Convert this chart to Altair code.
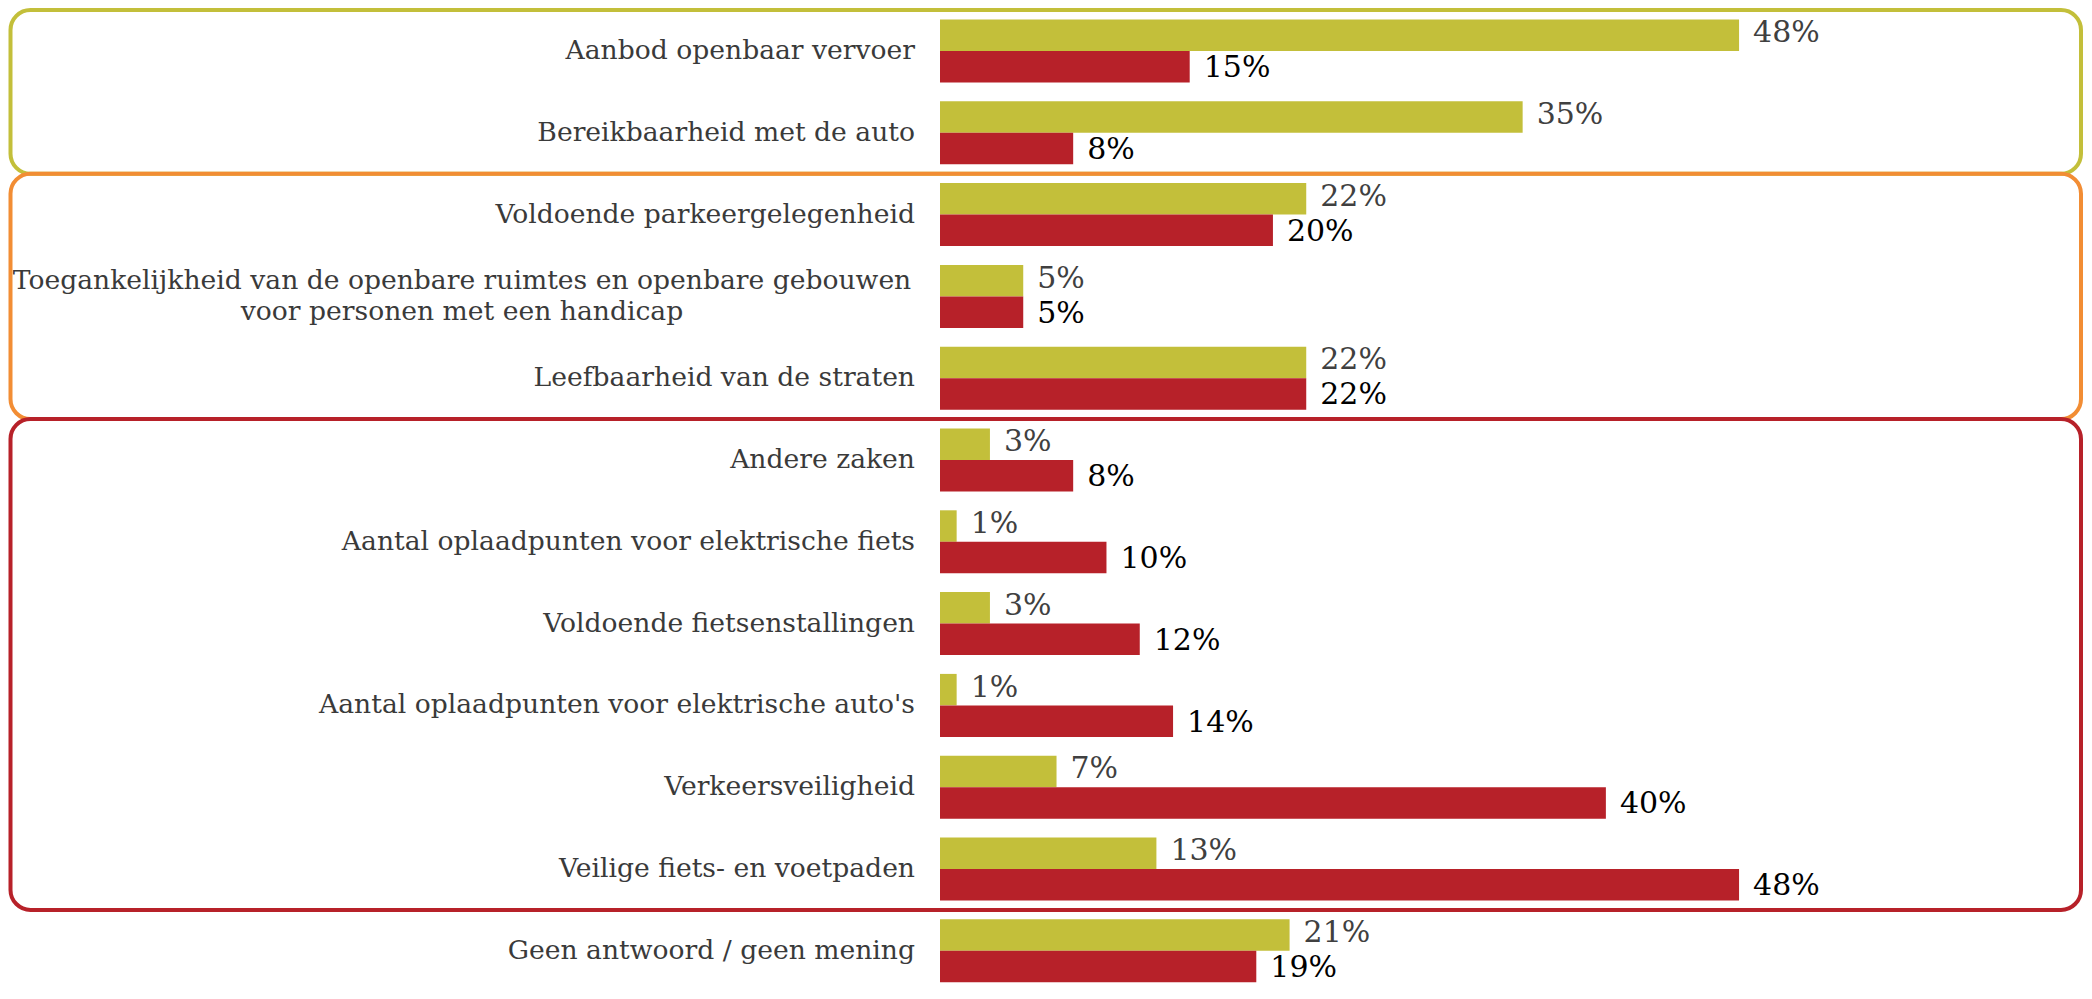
import altair as alt
import pandas as pd

# ---- data ----
categories = [
    "Aanbod openbaar vervoer",
    "Bereikbaarheid met de auto",
    "Voldoende parkeergelegenheid",
    "Toegankelijkheid van de openbare ruimtes en openbare gebouwen|voor personen met een handicap",
    "Leefbaarheid van de straten",
    "Andere zaken",
    "Aantal oplaadpunten voor elektrische fiets",
    "Voldoende fietsenstallingen",
    "Aantal oplaadpunten voor elektrische auto's",
    "Verkeersveiligheid",
    "Veilige fiets- en voetpaden",
    "Geen antwoord / geen mening",
]
series_names = ["Serie 1", "Serie 2"]
values_serie1 = [48, 35, 22, 5, 22, 3, 1, 3, 1, 7, 13, 21]
values_serie2 = [15, 8, 20, 5, 22, 8, 10, 12, 14, 40, 48, 19]

box_groups = [
    ["Aanbod openbaar vervoer", "Bereikbaarheid met de auto"],
    ["Voldoende parkeergelegenheid",
     "Toegankelijkheid van de openbare ruimtes en openbare gebouwen|voor personen met een handicap",
     "Leefbaarheid van de straten"],
    ["Andere zaken", "Aantal oplaadpunten voor elektrische fiets", "Voldoende fietsenstallingen",
     "Aantal oplaadpunten voor elektrische auto's", "Verkeersveiligheid", "Veilige fiets- en voetpaden"],
]
box_colors = ["#C3BF3A", "#F28D34", "#B72129"]
bar_colors = ["#C3BF3A", "#B72129"]
text_colors = ["#404040", "#000000"]

# ---- tables ----
rows = []
for i, cat in enumerate(categories):
    for s, vals in enumerate([values_serie1, values_serie2]):
        rows.append({"cat": cat, "idx": i, "s": s, "serie": series_names[s],
                     "value": vals[i], "label": f"{vals[i]}%"})
df = pd.DataFrame(rows)

cat_df = pd.DataFrame({
    "name": categories,
    "idx": list(range(len(categories))),
    "multi": ["|" in c for c in categories],
})

box_df = pd.DataFrame({
    "first": [categories.index(g[0]) for g in box_groups],
    "last": [categories.index(g[-1]) for g in box_groups],
    "color": box_colors,
})

B = 0.385          # thickness of one bar, in row units
W, H = 1132, 981
FONT = "DejaVu Serif"
CAT_SIZE = 26.6
VAL_SIZE = 30

yscale = alt.Scale(domain=[-0.1406, 11.852], reverse=True, nice=False, zero=False)
xscale = alt.Scale(domain=[0, 68], nice=False, zero=True)

base = alt.Chart(df)

bars = base.transform_calculate(
    y0=f"datum.idx + datum.s*{B}",
    y1=f"datum.idx + (datum.s+1)*{B}",
).mark_rect().encode(
    x=alt.X("value:Q", scale=xscale, axis=None),
    x2=alt.datum(0),
    y=alt.Y("y0:Q", scale=yscale, axis=None),
    y2="y1:Q",
    color=alt.Color("serie:N", scale=alt.Scale(domain=series_names, range=bar_colors), legend=None),
)


def value_layer(s, dy):
    return base.transform_filter(f"datum.s == {s}").transform_calculate(
        yc=f"datum.idx + (datum.s+0.5)*{B}",
    ).mark_text(align="left", baseline="middle", dx=14, dy=dy, font=FONT,
                fontSize=VAL_SIZE, color=text_colors[s]).encode(
        x=alt.X("value:Q", scale=xscale, axis=None),
        y=alt.Y("yc:Q", scale=yscale, axis=None),
        text="label:N",
    )


values_1 = value_layer(0, -2)
values_2 = value_layer(1, 1.5)

cat_base = alt.Chart(cat_df).transform_calculate(yc=f"datum.idx + {B}")

cat_labels = cat_base.transform_filter("!datum.multi").mark_text(
    align="right", baseline="middle", dx=-25, font=FONT, fontSize=CAT_SIZE, color="#3a3a3a"
).encode(
    x=alt.datum(0, scale=xscale),
    y=alt.Y("yc:Q", scale=yscale, axis=None),
    text="name:N",
)

cat_labels_multi = cat_base.transform_filter("datum.multi").mark_text(
    align="center", baseline="middle", dx=-478, dy=-15.75, font=FONT, fontSize=CAT_SIZE,
    color="#3a3a3a", lineBreak="|", lineHeight=31.5,
).encode(
    x=alt.datum(0, scale=xscale),
    y=alt.Y("yc:Q", scale=yscale, axis=None),
    text="name:N",
)

boxes = alt.Chart(box_df).transform_calculate(
    top=f"datum.first - (0.5 - {B})",
    bottom=f"datum.last + 0.5 + {B}",
).mark_rect(filled=False, strokeWidth=4, cornerRadius=20).encode(
    x=alt.value(-929.5),
    x2=alt.value(W + 9),
    y=alt.Y("top:Q", scale=yscale, axis=None),
    y2="bottom:Q",
    stroke=alt.Stroke("color:N", scale=None, legend=None),
)

chart = alt.layer(bars, values_1, values_2, cat_labels, cat_labels_multi, boxes).properties(
    width=W, height=H,
    autosize=alt.AutoSizeParams(type="none"),
    padding={"left": 932, "top": 0, "right": 12, "bottom": 0},
    background="white",
).configure_view(stroke=None)

chart.save("out.html", embed_options={"renderer": "svg", "actions": False})
